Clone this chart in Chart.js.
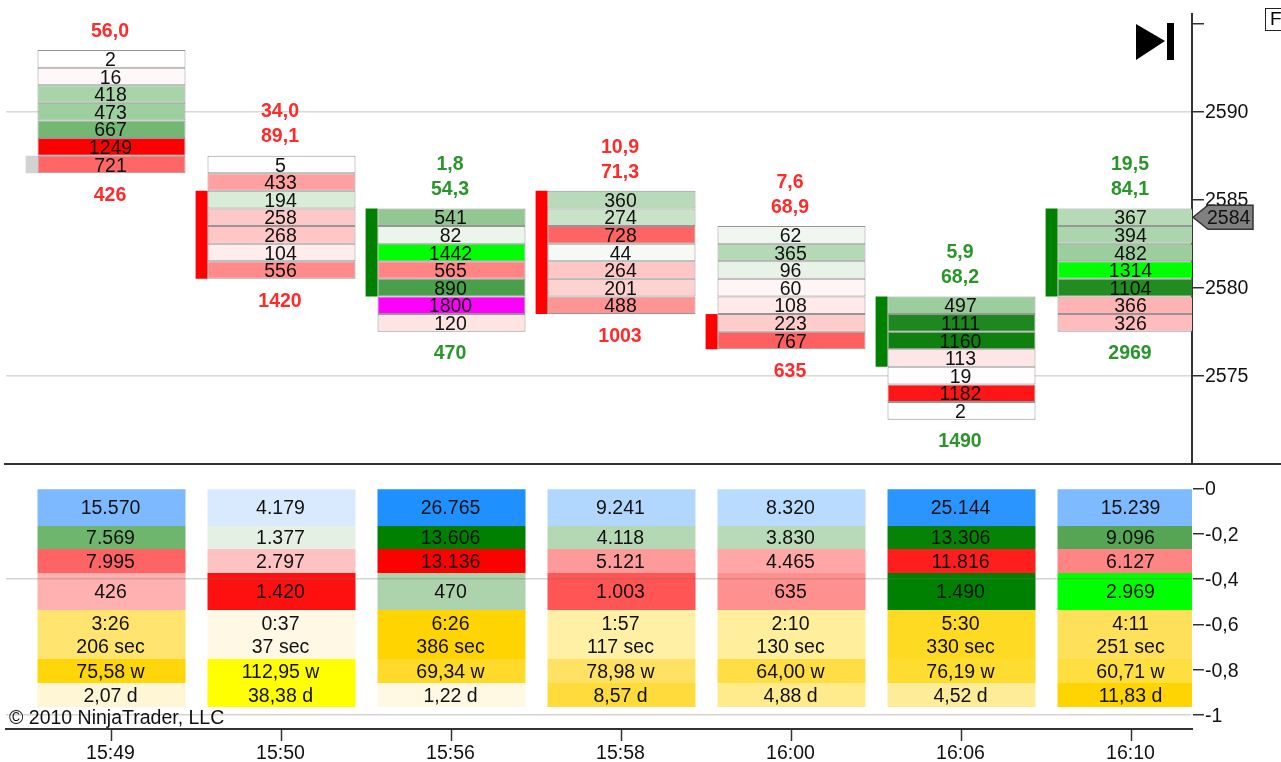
<!DOCTYPE html>
<html>
<head>
<meta charset="utf-8">
<title>Volume footprint</title>
<script src="https://cdn.jsdelivr.net/npm/chart.js@4"></script>
<style>
    html, body { margin:0; padding:0; background:#fff; overflow:hidden; }
    #wrap { position:relative; width:1281px; height:762px; }
    canvas { position:absolute; left:0; filter:blur(0.4px); }
    #priceChart { top:0; }
    #statsChart { top:464px; clip-path:inset(0 0 0 4px); }
    #divider { position:absolute; left:4px; right:0; top:463px; height:2px; background:#333; }
    #fbox { position:absolute; left:1265px; top:8px; width:20px; height:23px; border:1.5px solid #222;
            font:19px "Liberation Sans"; line-height:20px; padding-left:4px; box-sizing:border-box; }
</style>
</head>
<body>
<div id="wrap">
    <canvas id="priceChart" width="1281" height="464"></canvas>
    <canvas id="statsChart" width="1281" height="298"></canvas>
    <div id="divider"></div>
    <div id="fbox">F</div>
</div>
<script>
const barTimes = ['15:49','15:50','15:56','15:58','16:00','16:06','16:10'];

// highest traded price of every bar, cells go down one point each
const barHighs = [2593, 2587, 2584, 2585, 2583, 2579, 2584];
const cellVolumes = [
    [2, 16, 418, 473, 667, 1249, 721],
    [5, 433, 194, 258, 268, 104, 556],
    [541, 82, 1442, 565, 890, 1800, 120],
    [360, 274, 728, 44, 264, 201, 488],
    [62, 365, 96, 60, 108, 223, 767],
    [497, 1111, 1160, 113, 19, 1182, 2],
    [367, 394, 482, 1314, 1104, 366, 326]
];
const cellColors = [
    ['#ffffff','#fff8f8','#a9d3a9','#9ecf9e','#72b872','#ff0000','#ff6666'],
    ['#ffffff','#ffa0a0','#d8ecd8','#ffc8c8','#ffc6c6','#ffecec','#ff8a8a'],
    ['#92c792','#ecf5ec','#00ff00','#ff8585','#4a9f4a','#ff00ff','#ffe4e4'],
    ['#b8dab8','#c8e3c8','#ff6464','#f5faf5','#ffc6c6','#ffd2d2','#ff9494'],
    ['#f0f7f0','#b5d9b5','#e8f3e8','#fff5f5','#ffe9e9','#ffcccc','#ff5f5f'],
    ['#9ccd9c','#1f871f','#0f800f','#ffe6e6','#fffdfd','#ff1515','#ffffff'],
    ['#b6d9b6','#add5ad','#9ccd9c','#00ff00','#228b22','#ffb3b3','#ffbcbc']
];

// open/close body next to each bar
const bodyHigh = [2587.5, 2585.5, 2584.5, 2585.5, 2578.5, 2579.5, 2584.5];
const bodyLow = [2586.5, 2580.5, 2579.5, 2578.5, 2576.5, 2575.5, 2579.5];
const bodyColors = ['#d3d3d3','#ff0000','#008000','#ff0000','#ff0000','#008000','#008000'];

const topLabelUpper = ['', '34,0', '1,8', '10,9', '7,6', '5,9', '19,5'];
const topLabelLower = ['56,0', '89,1', '54,3', '71,3', '68,9', '68,2', '84,1'];
const bottomLabels = ['426', '1420', '470', '1003', '635', '1490', '2969'];
const labelColors = ['#ff2a2a','#ff2a2a','#2a962a','#ff2a2a','#ff2a2a','#2a962a','#2a962a'];

const lastPrice = 2584;
const priceGridLines = [2590, 2575];
const priceTickLabels = [2590, 2585, 2580, 2575];
const statsGridLines = [-0.4, -1];

// lower pane rows, axis units
const rowTops = [0, -0.165, -0.267, -0.373, -0.536, -0.753, -0.859];
const rowBottoms = [-0.165, -0.267, -0.373, -0.536, -0.753, -0.859, -0.965];
const rowText = [
    ['15.570','4.179','26.765','9.241','8.320','25.144','15.239'],
    ['7.569','1.377','13.606','4.118','3.830','13.306','9.096'],
    ['7.995','2.797','13.136','5.121','4.465','11.816','6.127'],
    ['426','1.420','470','1.003','635','1.490','2.969'],
    ['3:26\n206 sec','0:37\n37 sec','6:26\n386 sec','1:57\n117 sec','2:10\n130 sec','5:30\n330 sec','4:11\n251 sec'],
    ['75,58 w','112,95 w','69,34 w','78,98 w','64,00 w','76,19 w','60,71 w'],
    ['2,07 d','38,38 d','1,22 d','8,57 d','4,88 d','4,52 d','11,83 d']
];
const rowColors = [
    ['#7cb9ff','#d9eaff','#1e90ff','#b2d7ff','#b8dbff','#2a95ff','#7ebaff'],
    ['#6eb56e','#e4f0e4','#008000','#b4d8b4','#b8dab8','#068306','#55a555'],
    ['#ff6464','#ffc2c2','#ff0000','#ff9a9a','#ffa6a6','#ff1e1e','#ff8585'],
    ['#ffb0b0','#ff1010','#add3ad','#ff5555','#ff9090','#008000','#00ff00'],
    ['#ffe56f','#fff8e5','#ffd400','#fff0a5','#ffee9c','#ffda22','#ffe05a'],
    ['#ffd60a','#ffff00','#ffda2a','#ffe264','#ffde45','#ffdc30','#ffdf40'],
    ['#fff6d6','#ffff00','#fff9e3','#ffdc3c','#ffea8c','#ffec99','#ffd400']
];

const FONT = '19.5px "Liberation Sans"';
const BOLD = 'bold 19.5px "Liberation Sans"';
const AXIS = '#333333';
const X_MIN = -0.6206;
const X_MAX = 6.3559;

const cellData = [];
const cellBg = [];
barHighs.forEach((high, i) => {
    cellVolumes[i].forEach((v, j) => {
        const price = high - j;
        cellData.push({x:i, y:[price-0.5, price+0.5]});
        cellBg.push(cellColors[i][j]);
    });
});
const bodyData = barHighs.map((h, i) => ({x:i-0.47, y:[bodyLow[i], bodyHigh[i]]}));

const statsData = [];
const statsBg = [];
rowText.forEach((row, r) => {
    row.forEach((t, i) => {
        statsData.push({x:i, y:[rowBottoms[r], rowTops[r]]});
        statsBg.push(rowColors[r][i]);
    });
});

function fixAxisSize(size) {
    return scale => {
        if (scale.isHorizontal()) scale.height = size; else scale.width = size;
        scale.paddingTop = scale.paddingBottom = scale.paddingLeft = scale.paddingRight = 0;
    };
}

const priceLabels = {
    id:'priceLabels',
    afterDatasetsDraw(chart) {
        const {ctx, chartArea} = chart;
        const x = chart.scales.x, y = chart.scales.y;
        ctx.save();
        ctx.beginPath();
        ctx.rect(chartArea.left, 0, chartArea.width, chartArea.bottom);
        ctx.clip();
        ctx.textAlign = 'center';
        ctx.textBaseline = 'middle';
        ctx.fillStyle = '#111';
        ctx.font = FONT;
        barHighs.forEach((high, i) => {
            cellVolumes[i].forEach((v, j) => {
                ctx.fillText(v, x.getPixelForValue(i)-1, y.getPixelForValue(high-j)+1.8);
            });
        });
        ctx.font = BOLD;
        barHighs.forEach((high, i) => {
            const cx = x.getPixelForValue(i)-1.5;
            const top = y.getPixelForValue(high+0.5);
            const bottom = y.getPixelForValue(high-6.5);
            ctx.fillStyle = labelColors[i];
            ctx.fillText(topLabelLower[i], cx, top-18.7);
            ctx.fillText(topLabelUpper[i], cx, top-43.7);
            ctx.fillText(bottomLabels[i], cx, bottom+22.3);
        });
        ctx.restore();
    },
    afterDraw(chart) {
        const {ctx, chartArea} = chart;
        const y = chart.scales.y.getPixelForValue(lastPrice);
        const r = chartArea.right;
        // last price marker
        ctx.save();
        ctx.beginPath();
        ctx.moveTo(r+1, y);
        ctx.lineTo(r+16, y-12);
        ctx.lineTo(r+61, y-12);
        ctx.lineTo(r+61, y+12);
        ctx.lineTo(r+16, y+12);
        ctx.closePath();
        ctx.fillStyle = '#808080';
        ctx.fill();
        ctx.strokeStyle = '#333';
        ctx.lineWidth = 1.5;
        ctx.stroke();
        ctx.fillStyle = '#111';
        ctx.font = FONT;
        ctx.textAlign = 'left';
        ctx.textBaseline = 'middle';
        ctx.fillText(String(lastPrice), r+15, y+1);
        // go to end button
        ctx.fillStyle = '#000';
        ctx.beginPath();
        ctx.moveTo(r-56, 24);
        ctx.lineTo(r-27, 41);
        ctx.lineTo(r-56, 60);
        ctx.closePath();
        ctx.fill();
        ctx.fillRect(r-25, 23, 7, 37);
        ctx.restore();
    }
};

const statsLabels = {
    id:'statsLabels',
    afterDatasetsDraw(chart) {
        const {ctx} = chart;
        const x = chart.scales.x, y = chart.scales.y;
        ctx.save();
        ctx.textAlign = 'center';
        ctx.textBaseline = 'middle';
        ctx.fillStyle = '#111';
        ctx.font = FONT;
        rowText.forEach((row, r) => {
            const cy = y.getPixelForValue((rowTops[r]+rowBottoms[r])/2);
            row.forEach((t, i) => {
                const lines = t.split('\n');
                lines.forEach((line, k) => {
                    ctx.fillText(line, x.getPixelForValue(i)-1, cy+1.5+(k-(lines.length-1)/2)*23);
                });
            });
        });
        ctx.restore();
    },
    afterDraw(chart) {
        const {ctx, chartArea} = chart;
        ctx.save();
        ctx.fillStyle = '#111';
        ctx.font = FONT;
        ctx.textAlign = 'left';
        ctx.textBaseline = 'middle';
        ctx.fillText('© 2010 NinjaTrader, LLC', chartArea.left+3, chartArea.bottom-10);
        ctx.restore();
    }
};

function gridColor(lines, color) {
    return c => lines.some(v => Math.abs(v-c.tick.value) < 1e-6) ? color : 'rgba(0,0,0,0)';
}

new Chart(document.getElementById('priceChart'), {
    type:'bar',
    data:{
        datasets:[
            {
                label:'Volume',
                data:cellData,
                backgroundColor:cellBg,
                borderColor:'#969696',
                borderWidth:1,
                borderSkipped:false,
                inflateAmount:0,
                barThickness:148,
                grouped:false
            },
            {
                label:'Body',
                data:bodyData,
                backgroundColor:bodyColors,
                borderWidth:0,
                borderSkipped:false,
                inflateAmount:0,
                barThickness:12,
                grouped:false
            }
        ]
    },
    plugins:[priceLabels],
    options:{
        responsive:false,
        animation:false,
        layout:{padding:{left:6, top:14, right:0, bottom:0}},
        plugins:{legend:{display:false}, tooltip:{enabled:false}},
        scales:{
            x:{type:'linear', display:false, min:X_MIN, max:X_MAX, offset:false, grid:{display:false, offset:false}},
            y:{
                position:'right',
                min:2569.98,
                max:2595.55,
                afterFit:fixAxisSize(89),
                border:{color:AXIS, width:2},
                grid:{
                    color:gridColor(priceGridLines, '#dcd8d2'),
                    lineWidth:1.5,
                    tickColor:AXIS,
                    tickLength:12,
                    tickWidth:1.5
                },
                ticks:{
                    stepSize:5,
                    includeBounds:false,
                    padding:1,
                    labelOffset:0.8,
                    color:'#111',
                    font:{family:'Liberation Sans', size:19.5},
                    callback:v => priceTickLabels.includes(v) ? String(v) : ''
                }
            }
        }
    }
});

new Chart(document.getElementById('statsChart'), {
    type:'bar',
    data:{
        datasets:[{
            label:'Stats',
            data:statsData,
            backgroundColor:statsBg,
            borderWidth:0,
            borderSkipped:false,
            inflateAmount:0,
            barThickness:148,
            grouped:false
        }]
    },
    plugins:[statsLabels],
    options:{
        responsive:false,
        animation:false,
        layout:{padding:{left:6, top:1, right:0, bottom:0}},
        plugins:{legend:{display:false}, tooltip:{enabled:false}},
        scales:{
            x:{
                type:'linear',
                min:X_MIN,
                max:X_MAX,
                offset:false,
                afterFit:fixAxisSize(33),
                border:{color:AXIS, width:2},
                grid:{offset:false, drawOnChartArea:false, tickColor:AXIS, tickLength:12, tickWidth:1.5},
                ticks:{
                    stepSize:1,
                    includeBounds:false,
                    autoSkip:false,
                    maxRotation:0,
                    padding:1,
                    labelOffset:-1,
                    color:'#111',
                    font:{family:'Liberation Sans', size:19.5},
                    callback:v => barTimes[v] || ''
                }
            },
            y:{
                position:'right',
                min:-1.0618,
                max:0.1038,
                afterFit:fixAxisSize(89),
                border:{color:AXIS, width:2},
                grid:{
                    color:gridColor(statsGridLines, 'rgba(120,110,100,0.3)'),
                    lineWidth:1.5,
                    tickColor:AXIS,
                    tickLength:12,
                    tickWidth:1.5,
                    z:1
                },
                ticks:{
                    stepSize:0.2,
                    includeBounds:false,
                    padding:1,
                    labelOffset:1.5,
                    color:'#111',
                    font:{family:'Liberation Sans', size:19.5},
                    callback:v => String(Number(v.toFixed(1))).replace('.', ',')
                }
            }
        }
    }
});
</script>
</body>
</html>
